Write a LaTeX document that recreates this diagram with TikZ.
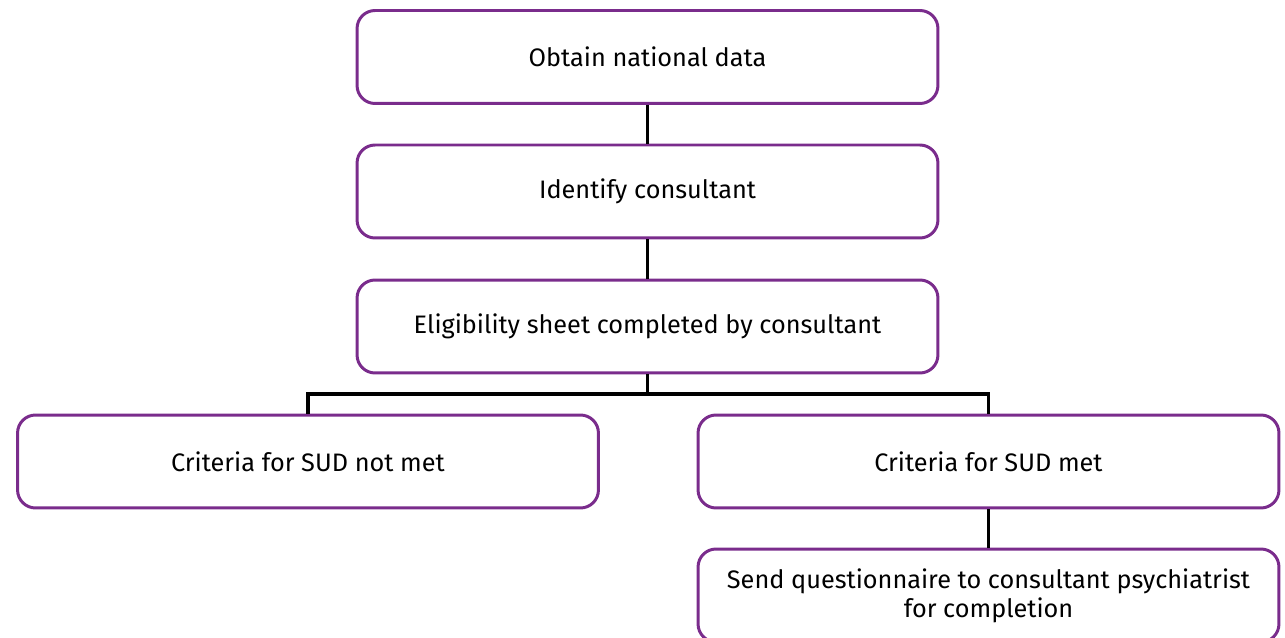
\documentclass[tikz,border=0pt]{standalone}
\usepackage{fontspec}
\setmainfont{Fira Sans}
\usepackage{tikz}
\usetikzlibrary{positioning,calc}

\definecolor{boxpurple}{RGB}{122,44,140}

\begin{document}
\begin{tikzpicture}[
    x=0.02cm, y=-0.02cm,
    box/.style={rectangle, rounded corners=0.36cm, draw=boxpurple, line width=1.7pt,
        minimum width=11.62cm, minimum height=1.86cm, align=center,
        font=\fontsize{14.4}{16.6}\selectfont},
    link/.style={line width=2pt, black}
]
\useasboundingbox (0,0) rectangle (1285,638);

% Main column
\node[box] (data) at (647.5,57) {Obtain national data};
\node[box] (ident) at (647.5,191.5) {Identify consultant};
\node[box] (elig) at (647.5,326.5) {Eligibility sheet completed by consultant};

% Branches
\node[box] (notmet) at (308,461.5) {Criteria for SUD not met};
\node[box] (met) at (988.5,461.5) {Criteria for SUD met};
\node[box] (send) at (988.5,595.5) {Send questionnaire to consultant psychiatrist\\for completion};

\draw[link] (data) -- (ident);
\draw[link] (ident) -- (elig);

% Split bar
\coordinate (split) at (647.5,394);
\draw[link] (elig) -- (split);
\draw[link] (notmet.north) |- (split) -| (met.north);
\draw[link] (met) -- (send);

\end{tikzpicture}
\end{document}
